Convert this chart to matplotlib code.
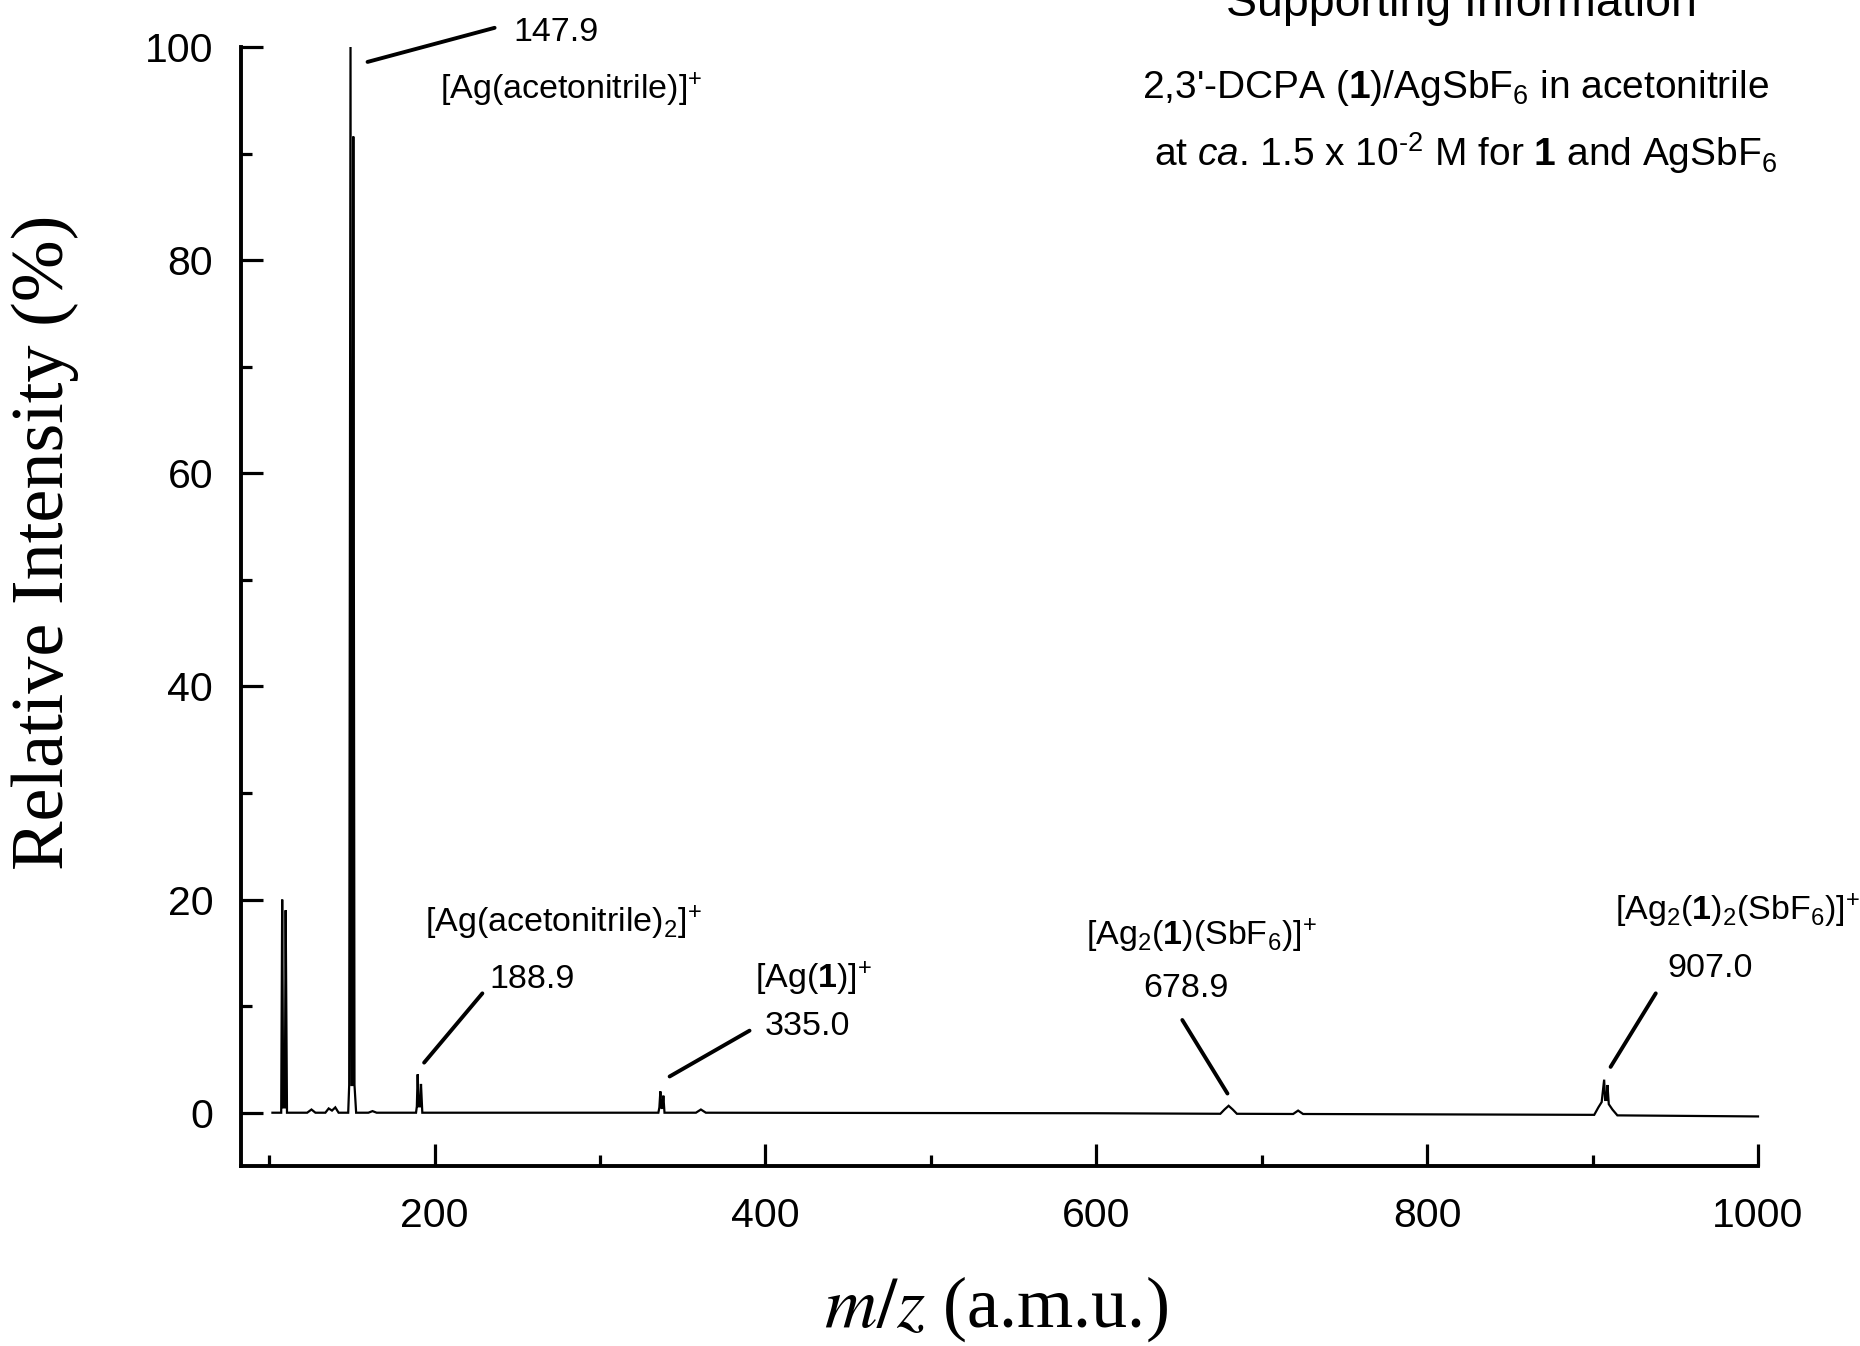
import matplotlib
matplotlib.use("Agg")
import matplotlib.pyplot as plt
from matplotlib.ticker import FixedLocator

# ---- data ----
mz = [102, 107.3, 107.9, 108.5, 109.5, 110.0, 110.8,
      123, 125.6, 128, 134, 136, 138, 140, 142,
      147.8, 148.4, 149.2, 149.8, 150.3, 150.9, 151.6, 152.6,
      160, 162.5, 165,
      188.8, 189.3, 189.8, 190.4, 191.3, 191.8, 192.6,
      335.3, 335.9, 336.5, 337.1, 337.8, 338.3, 339.0,
      358, 361, 364,
      600, 675, 677.5, 680.0, 682.5, 685,
      719, 722, 725,
      901, 903.5, 905.5, 907.0, 907.6, 908.4, 909.0, 909.8, 912, 915,
      1000]
intensity = [0, 0, 20.0, 0.5, 0.5, 19.0, 0,
             0, 0.3, 0, 0, 0.4, 0.2, 0.5, 0,
             0, 2.6, 100.0, 2.6, 2.6, 91.6, 2.6, 0,
             0, 0.15, 0,
             0, 0.6, 3.6, 0.6, 0.6, 2.7, 0,
             0, 0.5, 2.0, 0.4, 0.5, 1.6, 0,
             0, 0.3, 0,
             -0.05, -0.1, 0.3, 0.65, 0.3, -0.1,
             -0.12, 0.2, -0.12,
             -0.2, 0.5, 1.0, 3.1, 1.2, 1.2, 2.6, 0.8, 0.3, -0.25,
             -0.35]

peak_values = ["147.9", "188.9", "335.0", "678.9", "907.0"]
peak_names = [r"[Ag(acetonitrile)]$^{+}$",
              r"[Ag(acetonitrile)$_{2}$]$^{+}$",
              r"[Ag($\mathbf{1}$)]$^{+}$",
              r"[Ag$_{2}$($\mathbf{1}$)(SbF$_{6}$)]$^{+}$",
              r"[Ag$_{2}$($\mathbf{1}$)$_{2}$(SbF$_{6}$)]$^{+}$"]
x_ticks_major = [200, 400, 600, 800, 1000]
x_ticks_minor = [100, 300, 500, 700, 900]
y_ticks_major = [0, 20, 40, 60, 80, 100]
y_ticks_minor = [10, 30, 50, 70, 90]

plt.rcParams['font.family'] = ['Liberation Sans', 'DejaVu Sans']
plt.rcParams['mathtext.fontset'] = 'custom'
plt.rcParams['mathtext.rm'] = 'Liberation Sans'
plt.rcParams['mathtext.it'] = 'Liberation Sans:italic'
plt.rcParams['mathtext.bf'] = 'Liberation Sans:bold'

W, H = 1860, 1346
fig = plt.figure(figsize=(W / 100, H / 100), dpi=100)
ax = fig.add_axes([241 / W, 1 - 1166 / H, (1758 - 241) / W, (1166 - 47) / H])

ax.plot(mz, intensity, color='black', lw=1.6, clip_on=False, solid_joinstyle='miter')

ax.set_xlim(83, 1000)
ax.set_ylim(-5, 100)
for s in ['top', 'right']:
    ax.spines[s].set_visible(False)
for s in ['left', 'bottom']:
    ax.spines[s].set_linewidth(2.8)

ax.xaxis.set_major_locator(FixedLocator(x_ticks_major))
ax.xaxis.set_minor_locator(FixedLocator(x_ticks_minor))
ax.yaxis.set_major_locator(FixedLocator(y_ticks_major))
ax.yaxis.set_minor_locator(FixedLocator(y_ticks_minor))
ax.tick_params(which='major', direction='in', length=16, width=2.3, labelsize=29.5, color='black')
ax.tick_params(which='minor', direction='in', length=8, width=2.3)
ax.tick_params(axis='y', which='major', pad=20)
ax.tick_params(axis='x', which='major', pad=22)

ann_lw = 2.8
ann_fs = 24.5
line_kw = dict(arrowstyle='-', lw=ann_lw, color='black', shrinkA=0, shrinkB=0)
# 147.9
ax.annotate("", xy=(159.5, 98.6), xytext=(236.3, 101.8), arrowprops=line_kw,
            annotation_clip=False)
ax.text(247.8, 101.4, peak_values[0], fontsize=ann_fs, ha='left', va='center', clip_on=False)
ax.text(203, 96.0, peak_names[0], fontsize=ann_fs, ha='left', va='center')
# 188.9
ax.annotate("", xy=(193.7, 4.7), xytext=(228.9, 11.2), arrowprops=line_kw)
ax.text(233.3, 12.5, peak_values[1], fontsize=ann_fs, ha='left', va='center')
ax.text(194, 17.8, peak_names[1], fontsize=ann_fs, ha='left', va='center')
# 335.0
ax.annotate("", xy=(342.1, 3.4), xytext=(390.4, 7.7), arrowprops=line_kw)
ax.text(399.5, 8.1, peak_values[2], fontsize=ann_fs, ha='left', va='center')
ax.text(393.8, 12.6, peak_names[2], fontsize=ann_fs, ha='left', va='center')
# 678.9
ax.annotate("", xy=(679.3, 1.8), xytext=(652.0, 8.7), arrowprops=line_kw)
ax.text(628.4, 11.7, peak_values[3], fontsize=ann_fs, ha='left', va='center')
ax.text(593.9, 16.6, peak_names[3], fontsize=ann_fs, ha='left', va='center')
# 907.0
ax.annotate("", xy=(910.9, 4.3), xytext=(938.2, 11.2), arrowprops=line_kw)
ax.text(945.4, 13.5, peak_values[4], fontsize=ann_fs, ha='left', va='center')
ax.text(913.8, 18.9, peak_names[4], fontsize=ann_fs, ha='left', va='center', clip_on=False)

# axis labels
fig.text(45 / W, 1 - 542 / H, "Relative Intensity (%)", rotation=90,
         fontsize=53.5, family='Liberation Serif', ha='center', va='center')
fig.text(996 / W, 1 - 1327 / H, r"$m/z$ (a.m.u.)", fontsize=52,
         family='Liberation Serif', math_fontfamily='stix', ha='center', va='baseline')

# header texts
fig.text(1461 / W, 1 - 16 / H, "Supporting Information", fontsize=33.5,
         ha='center', va='baseline')
fig.text(1456 / W, 1 - 98 / H, r"2,3'-DCPA ($\mathbf{1}$)/AgSbF$_{6}$ in acetonitrile",
         fontsize=28, ha='center', va='baseline')
fig.text(1466 / W, 1 - 166 / H,
         r"at $\mathit{ca}$. 1.5 x 10$^{\text{-2}}$ M for $\mathbf{1}$ and AgSbF$_{6}$",
         fontsize=28, ha='center', va='baseline')

fig.savefig("out.png", dpi=100)
